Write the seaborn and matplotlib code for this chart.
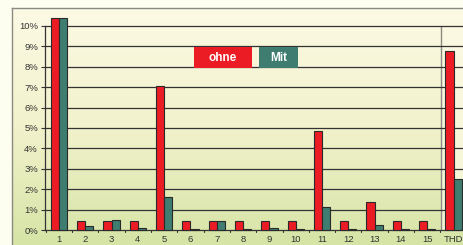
import numpy as np
import pandas as pd
import matplotlib
matplotlib.use("Agg")
import matplotlib.pyplot as plt
import seaborn as sns
from matplotlib.colors import LinearSegmentedColormap
from matplotlib.patches import Rectangle

categories = ["1", "2", "3", "4", "5", "6", "7", "8", "9", "10",
              "11", "12", "13", "14", "15", "THD"]
ohne = [10.4, 0.45, 0.45, 0.45, 7.05, 0.45, 0.45, 0.45, 0.45, 0.45,
        4.83, 0.45, 1.36, 0.45, 0.45, 8.76]
mit = [10.4, 0.2, 0.48, 0.12, 1.64, 0.03, 0.45, 0.07, 0.1, 0.03,
       1.13, 0.07, 0.23, 0.07, 0.07, 2.5]
series = ["ohne", "Mit"]
colors = {"ohne": "#EC1C24", "Mit": "#3E7D70"}

df = pd.DataFrame({
    "cat": categories * 2,
    "val": ohne + mit,
    "serie": ["ohne"] * len(categories) + ["Mit"] * len(categories),
})

sns.set_style("white")
plt.rcParams["font.family"] = ["Liberation Sans", "DejaVu Sans"]

W, H = 463, 245
fig = plt.figure(figsize=(W / 100, H / 100), dpi=100)
fig.patch.set_facecolor("#FEFEF0")

# plot area with gradient
bg = fig.add_axes([12 / W, 0, 1 - 12 / W, (H - 8) / H])
grad = np.linspace(0, 1, 256).reshape(-1, 1)
cmap = LinearSegmentedColormap.from_list("g", ["#FCFAE4", "#F2F2CC", "#D6E4A6"])
bg.imshow(grad, aspect="auto", cmap=cmap, extent=[0, 1, 0, 1], origin="upper")
bg.set_xticks([])
bg.set_yticks([])
for s in ["right", "bottom"]:
    bg.spines[s].set_visible(False)
for s in ["top", "left"]:
    bg.spines[s].set_color("#8A8A80")
    bg.spines[s].set_linewidth(1)

ax = fig.add_axes([45 / W, (H - 230) / H, (W - 45) / W, (230 - 8) / H])
ax.set_facecolor("none")

sns.barplot(data=df, x="cat", y="val", hue="serie", order=categories,
            hue_order=series, palette=colors, saturation=1, width=0.62, gap=0,
            edgecolor="#2A2A2A", linewidth=0.8, legend=False, ax=ax, zorder=3)

ax.set_xlim(-0.53, 15.36)
ax.set_ylim(0, 10.88)

# THD section lighter
ax.axvspan(14.52, 16, ymin=0, ymax=10 / 10.88, color="#FBF9E2", alpha=0.75, zorder=1)
ax.plot([14.52, 14.52], [0, 10], color="#8A8A80", lw=1, zorder=2)

for v in range(1, 11):
    ax.axhline(v, color="#333333", lw=0.9, zorder=2)

ax.set_yticks(range(0, 11))
ax.set_yticklabels([f"{v}%" for v in range(0, 11)], fontsize=6.8, color="#333333")
ax.set_xticks(range(len(categories)))
ax.set_xticklabels(categories, fontsize=6.8, color="#333333")
ax.tick_params(axis="x", length=0, pad=3.5)
ax.tick_params(axis="y", length=3, width=0.8, color="#333333", pad=2, left=True)
for b in np.arange(-0.5, 15, 1):
    ax.plot([b, b], [0, -0.12], color="#333333", lw=0.8, clip_on=False)

ax.set_xlabel("")
ax.set_ylabel("")
for s in ["top", "right"]:
    ax.spines[s].set_visible(False)
ax.spines["left"].set_bounds(0, 10)
ax.spines["left"].set_color("#333333")
ax.spines["left"].set_linewidth(0.9)
ax.spines["bottom"].set_color("#333333")
ax.spines["bottom"].set_linewidth(0.9)

for b in ax.patches:
    b.set_clip_on(False)

# legend boxes
ax.add_patch(Rectangle((5.13, 7.94), 2.21, 1.03, fc="#EC1C24", ec="none", zorder=5))
ax.add_patch(Rectangle((7.60, 7.94), 1.49, 1.03, fc="#3E7D70", ec="none", zorder=5))
ax.text(6.235, 8.45, "ohne", color="white", fontsize=8.5, fontweight="bold",
        ha="center", va="center", zorder=6)
ax.text(8.345, 8.45, "Mit", color="white", fontsize=8.5, fontweight="bold",
        ha="center", va="center", zorder=6)

fig.savefig("out.png", dpi=100)
